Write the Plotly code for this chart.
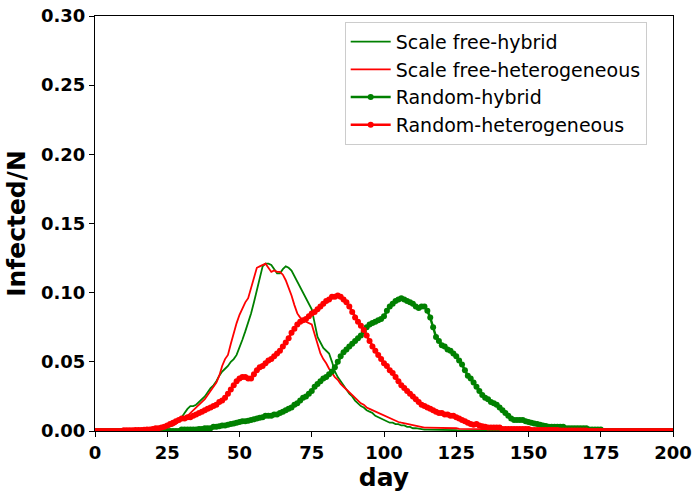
import plotly.graph_objects as go

days = list(range(0, 201))

# Scale free-hybrid, days 0..200
sf_hybrid = ([0.0]*5 + [0.0002]*15 +
    [0.001, 0.001, 0.0012, 0.0015, 0.002, 0.0025, 0.003, 0.004,
     0.006, 0.008, 0.010, 0.013, 0.016, 0.018, 0.018, 0.019, 0.021, 0.023, 0.025, 0.028,
     0.031, 0.033, 0.036, 0.040, 0.043, 0.045, 0.047, 0.050, 0.052, 0.055,
     0.060, 0.066, 0.072, 0.078, 0.085, 0.093, 0.102, 0.112, 0.119, 0.121,
     0.121, 0.120, 0.117, 0.114, 0.114, 0.117, 0.119, 0.118, 0.116, 0.112,
     0.108, 0.104, 0.100, 0.096, 0.092, 0.088, 0.078, 0.068, 0.064, 0.060,
     0.058, 0.056, 0.050, 0.043, 0.039, 0.036, 0.033, 0.030, 0.027, 0.025,
     0.022, 0.020, 0.018, 0.017, 0.015, 0.014, 0.013, 0.011, 0.010, 0.009,
     0.008, 0.007, 0.006, 0.006, 0.005, 0.005, 0.004, 0.004, 0.003, 0.003,
     0.002, 0.002, 0.0015, 0.001, 0.001, 0.001, 0.001, 0.001,
     0.0006, 0.0006, 0.0006, 0.0006, 0.0006, 0.0006, 0.0006, 0.0006] +
    [0.0003]*10 + [0.0]*65)

# Scale free-heterogeneous
sf_hetero = ([0.0]*5 + [0.0003]*15 +
    [0.001, 0.001, 0.0012, 0.0015, 0.002, 0.0025, 0.003, 0.004, 0.005, 0.007,
     0.008, 0.010, 0.011, 0.013, 0.015, 0.017, 0.019, 0.021, 0.023, 0.026,
     0.029, 0.032, 0.035, 0.040, 0.047, 0.052, 0.055, 0.063, 0.071, 0.078,
     0.084, 0.089, 0.093, 0.096, 0.104, 0.112, 0.118, 0.119, 0.120, 0.121,
     0.118, 0.115, 0.116, 0.115, 0.115, 0.113, 0.109, 0.104, 0.098, 0.091,
     0.085, 0.082, 0.080, 0.079, 0.078, 0.077, 0.070, 0.062, 0.056, 0.052,
     0.049, 0.045, 0.042, 0.039, 0.037, 0.034, 0.032, 0.030, 0.028, 0.026,
     0.024, 0.022, 0.020, 0.019, 0.017, 0.016, 0.015, 0.014, 0.013, 0.012,
     0.011, 0.010, 0.009, 0.008, 0.007, 0.0065, 0.006, 0.0055, 0.005, 0.0045,
     0.004, 0.0035, 0.003, 0.003, 0.0025, 0.0025, 0.0025, 0.0025, 0.0025, 0.0022,
     0.0022, 0.0022, 0.002, 0.002, 0.002, 0.002] +
    [0.0015]*15 + [0.001]*10 + [0.0005]*10 + [0.0]*40)

# Random-hybrid
rnd_hybrid = ([0.0]*30 +
    [0.001, 0.001, 0.001, 0.001, 0.001, 0.001, 0.0015, 0.0015, 0.002, 0.002,
     0.002, 0.003, 0.003, 0.0035, 0.004, 0.004, 0.0045, 0.005, 0.0055, 0.006,
     0.0065, 0.007, 0.007, 0.0075, 0.008, 0.0085, 0.009, 0.0095, 0.010, 0.011,
     0.011, 0.011, 0.012, 0.012, 0.013, 0.014, 0.015, 0.016, 0.017, 0.019,
     0.020, 0.022, 0.024, 0.025, 0.027, 0.029, 0.032, 0.034, 0.036, 0.038,
     0.039, 0.041, 0.043, 0.046, 0.050, 0.054, 0.057, 0.059, 0.061, 0.063,
     0.065, 0.067, 0.069, 0.072, 0.075, 0.077, 0.078, 0.079, 0.080, 0.081,
     0.083, 0.087, 0.090, 0.092, 0.094, 0.095, 0.096, 0.095, 0.094, 0.093,
     0.092, 0.090, 0.089, 0.090, 0.090, 0.087, 0.082, 0.075, 0.068, 0.065,
     0.062, 0.061, 0.059, 0.058, 0.056, 0.054, 0.051, 0.048, 0.044, 0.040,
     0.038, 0.035, 0.032, 0.029, 0.026, 0.024, 0.023, 0.021, 0.020, 0.019,
     0.017, 0.015, 0.013, 0.011, 0.009, 0.008, 0.008, 0.008, 0.008, 0.007,
     0.0065, 0.006, 0.0055, 0.005, 0.0045, 0.004, 0.0036, 0.003, 0.003, 0.003,
     0.003, 0.003, 0.003, 0.002, 0.002, 0.002, 0.002, 0.002, 0.002, 0.002,
     0.002, 0.001, 0.001, 0.001, 0.001, 0.001] +
    [0.0]*25)

# Random-heterogeneous
rnd_hetero = ([0.0]*10 +
    [0.0005, 0.0005, 0.0006, 0.0006, 0.0007, 0.0008, 0.0008, 0.0009, 0.001, 0.001,
     0.0015, 0.002, 0.002, 0.0025, 0.003, 0.004, 0.005, 0.006, 0.007, 0.008,
     0.009, 0.009, 0.010, 0.010, 0.011, 0.012, 0.013, 0.014, 0.015, 0.016,
     0.017, 0.018, 0.019, 0.021, 0.022, 0.024, 0.027, 0.030, 0.033, 0.036,
     0.038, 0.039, 0.039, 0.038, 0.038, 0.041, 0.044, 0.046, 0.047, 0.049,
     0.051, 0.052, 0.054, 0.056, 0.058, 0.061, 0.064, 0.067, 0.071, 0.074,
     0.077, 0.079, 0.080, 0.081, 0.083, 0.085, 0.086, 0.088, 0.090, 0.092,
     0.094, 0.095, 0.097, 0.097, 0.098, 0.097, 0.095, 0.093, 0.090, 0.086,
     0.082, 0.079, 0.076, 0.073, 0.069, 0.065, 0.061, 0.058, 0.055, 0.052,
     0.049, 0.047, 0.044, 0.042, 0.039, 0.036, 0.033, 0.031, 0.029, 0.027,
     0.025, 0.023, 0.021, 0.019, 0.018, 0.017, 0.016, 0.015, 0.014, 0.013,
     0.013, 0.012, 0.012, 0.011, 0.011, 0.010, 0.009, 0.008, 0.007, 0.006,
     0.005, 0.0045, 0.005, 0.004, 0.0035, 0.003, 0.0025, 0.0025, 0.0025, 0.0025,
     0.0025] +
    [0.0015]*10 + [0.0008]*10 + [0.0003]*10 + [0.0]*30)

x_ticks = [0, 25, 50, 75, 100, 125, 150, 175, 200]
y_ticks = [0.00, 0.05, 0.10, 0.15, 0.20, 0.25, 0.30]

fig = go.Figure()
fig.add_trace(go.Scatter(x=days, y=sf_hybrid, mode="lines", name="Scale free-hybrid",
                         line=dict(color="green", width=1.8)))
fig.add_trace(go.Scatter(x=days, y=sf_hetero, mode="lines", name="Scale free-heterogeneous",
                         line=dict(color="red", width=1.8)))
fig.add_trace(go.Scatter(x=days, y=rnd_hybrid, mode="lines+markers", name="Random-hybrid",
                         line=dict(color="green", width=2.5), marker=dict(size=6, color="green")))
fig.add_trace(go.Scatter(x=days, y=rnd_hetero, mode="lines+markers", name="Random-heterogeneous",
                         line=dict(color="red", width=2.5), marker=dict(size=6, color="red")))

axis_common = dict(showline=True, linecolor="black", linewidth=1.2, mirror=True,
                   ticks="outside", ticklen=5, tickcolor="black", showgrid=False, zeroline=False,
                   tickfont=dict(size=18, weight="bold", color="black"))

fig.update_layout(
    width=694, height=492,
    margin=dict(l=95, r=21, t=16, b=61, autoexpand=False),
    paper_bgcolor="white", plot_bgcolor="white",
    font=dict(family="DejaVu Sans", color="black"),
    showlegend=True,
    legend=dict(x=0.432, y=0.986, xanchor="left", yanchor="top",
                font=dict(size=19, color="black"),
                bordercolor="#cccccc", borderwidth=1, bgcolor="rgba(255,255,255,0.8)",
                tracegroupgap=0, itemwidth=40),
)
fig.update_xaxes(range=[0, 200], tickvals=x_ticks, ticktext=[str(v) for v in x_ticks],
                 title=dict(text="day", font=dict(size=25, weight="bold"), standoff=6),
                 **axis_common)
fig.update_yaxes(range=[0, 0.30], tickvals=y_ticks, ticktext=[f"{v:.2f}" for v in y_ticks],
                 title=dict(text="Infected/N", font=dict(size=25, weight="bold"), standoff=8),
                 **axis_common)

fig.write_html("out.html")
